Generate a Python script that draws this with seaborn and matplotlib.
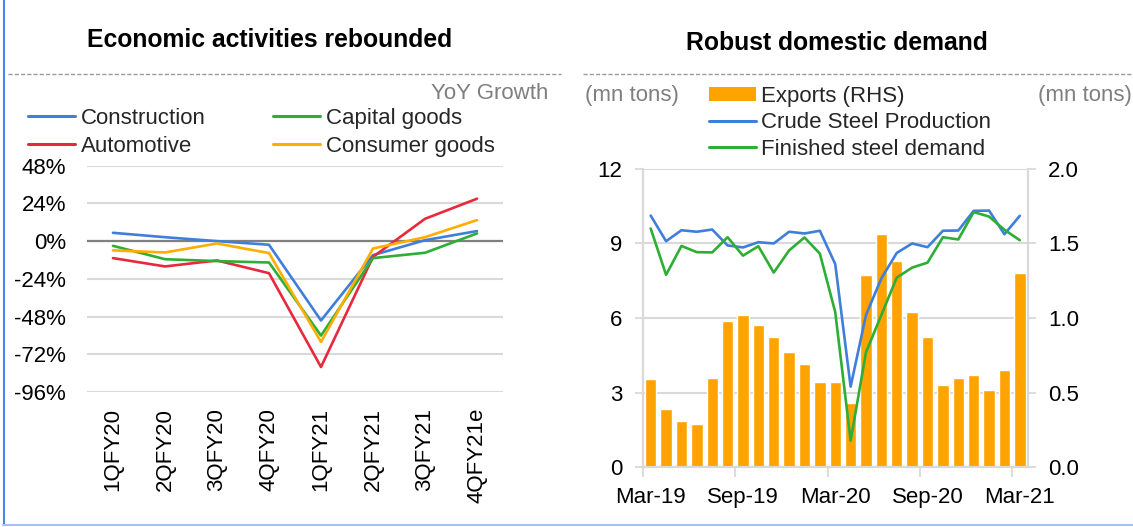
import numpy as np
import pandas as pd
import matplotlib
matplotlib.use("Agg")
import matplotlib.pyplot as plt
from matplotlib.lines import Line2D
from matplotlib.patches import Patch
import seaborn as sns

# ---------------- data ----------------
quarters = ["1QFY20", "2QFY20", "3QFY20", "4QFY20", "1QFY21", "2QFY21", "3QFY21", "4QFY21e"]
construction = [5.3, 2.5, 0.0, -2.3, -50.5, -8.9, 0.6, 6.4]
capital_goods = [-3.0, -11.5, -12.7, -13.6, -60.1, -10.8, -7.4, 4.9]
automotive = [-10.8, -16.1, -12.3, -20.4, -80.1, -10.0, 14.2, 27.0]
consumer_goods = [-5.9, -7.2, -1.5, -7.6, -64.1, -4.7, 2.5, 13.4]
yticks_left = [48, 24, 0, -24, -48, -72, -96]

months = ["Mar-19", "Apr-19", "May-19", "Jun-19", "Jul-19", "Aug-19", "Sep-19", "Oct-19",
          "Nov-19", "Dec-19", "Jan-20", "Feb-20", "Mar-20", "Apr-20", "May-20", "Jun-20",
          "Jul-20", "Aug-20", "Sep-20", "Oct-20", "Nov-20", "Dec-20", "Jan-21", "Feb-21", "Mar-21"]
exports_rhs = [0.59, 0.39, 0.31, 0.29, 0.60, 0.98, 1.02, 0.95, 0.87, 0.77, 0.69, 0.57, 0.57,
               0.43, 1.29, 1.56, 1.38, 1.04, 0.87, 0.55, 0.60, 0.62, 0.52, 0.65, 1.30]
crude_steel = [10.11, 9.08, 9.52, 9.46, 9.55, 8.91, 8.83, 9.04, 8.99, 9.46, 9.39, 9.50, 8.16,
               3.24, 6.12, 7.59, 8.61, 8.99, 8.84, 9.50, 9.51, 10.30, 10.31, 9.36, 10.10]
finished_steel = [9.59, 7.73, 8.89, 8.64, 8.63, 9.24, 8.50, 8.88, 7.82, 8.71, 9.23, 8.58, 6.23,
                  1.07, 4.62, 6.12, 7.62, 8.02, 8.22, 9.24, 9.15, 10.25, 10.07, 9.54, 9.12]
month_labels = ["Mar-19", "Sep-19", "Mar-20", "Sep-20", "Mar-21"]

# ---------------- style ----------------
sns.set_theme(style="white")
plt.rcParams["font.family"] = ["Liberation Sans", "DejaVu Sans"]
FS = 16
BLUE = "#3F7FDA"
GREEN = "#2EAE34"
RED = "#E8283C"
ORANGE_L = "#FFAE00"
ORANGE_B = "#FFA300"
GRID = "#D9D9D9"
GREYTXT = "#7F7F7F"

W, H = 1133, 527
fig = plt.figure(figsize=(W / 100, H / 100), dpi=100)
fig.patch.set_facecolor("white")

def fx(px):
    return px / W

def fy(py):
    return 1 - py / H

# ---------------- left chart ----------------
axL = fig.add_axes([fx(87), fy(392), fx(503) - fx(87), fy(165.7) - fy(392)])
series_names = ["Construction", "Automotive", "Capital goods", "Consumer goods"]
series_vals = [construction, automotive, capital_goods, consumer_goods]
rows = []
for name, vals in zip(series_names, series_vals):
    for i, v in enumerate(vals):
        rows.append({"idx": i, "value": v, "series": name})
dfL = pd.DataFrame(rows)
pal = {"Construction": BLUE, "Automotive": RED, "Capital goods": GREEN, "Consumer goods": ORANGE_L}

for y in yticks_left:
    axL.axhline(y, color=GRID, lw=1.5, zorder=0)
axL.axhline(0, color="#808080", lw=1.6, zorder=1)

sns.lineplot(data=dfL, x="idx", y="value", hue="series", hue_order=series_names,
             palette=pal, linewidth=1.9, ax=axL, sort=False, legend=True, zorder=3)
axL.set_xlim(-0.5, 7.5)
axL.set_ylim(-96, 48)
axL.set_yticks(yticks_left)
axL.set_yticklabels([f"{v}%" for v in yticks_left])
axL.set_xticks(range(len(quarters)))
axL.set_xticklabels(quarters, rotation=90, va="top", ha="center")
axL.tick_params(axis="y", length=0, pad=15, labelsize=FS, labelcolor="black")
axL.tick_params(axis="x", length=0, pad=11.5, labelsize=FS, labelcolor="black")
axL.set_xlabel("")
axL.set_ylabel("")
for s in axL.spines.values():
    s.set_visible(False)
sns.move_legend(axL, "upper left", bbox_to_anchor=(fx(28), fy(108)),
                bbox_transform=fig.transFigure, ncol=2, frameon=False, title=None,
                fontsize=FS, handlelength=2.1, handletextpad=0.3, columnspacing=3.0,
                labelspacing=0.3, borderpad=0, borderaxespad=0)
for line in axL.get_legend().get_lines():
    line.set_linewidth(2.2)

# ---------------- right chart ----------------
axR = fig.add_axes([fx(643), fy(467.3), fx(1027.5) - fx(643), fy(168.5) - fy(467.3)])
axR2 = axR.twinx()
dfR = pd.DataFrame({"idx": np.arange(len(months)), "month": months,
                    "exports": exports_rhs, "crude": crude_steel, "finished": finished_steel})

sns.barplot(data=dfR, x="idx", y="exports", color=ORANGE_B, width=0.74,
            saturation=1, ax=axR2, zorder=2)
sns.lineplot(data=dfR, x="idx", y="crude", color=BLUE, linewidth=1.9, ax=axR, sort=False)
sns.lineplot(data=dfR, x="idx", y="finished", color=GREEN, linewidth=1.9, ax=axR, sort=False)

axR.set_zorder(axR2.get_zorder() + 1)
axR.patch.set_visible(False)

axR.set_ylim(0, 12)
axR2.set_ylim(0, 2.0)
axR.set_yticks([0, 3, 6, 9, 12])
axR2.set_yticks([0, 0.5, 1.0, 1.5, 2.0])
axR2.set_yticklabels(["0.0", "0.5", "1.0", "1.5", "2.0"])
axR2.set_axisbelow(True)
axR2.yaxis.grid(True, color=GRID, lw=1.5)
axR2.xaxis.grid(False)
axR.grid(False)

axR.set_xlim(-0.5, len(months) - 0.5)
axR.set_xticks([0, 6, 12, 18, 24])
axR.set_xticklabels(month_labels)
axR.set_xticks([-0.5, 5.5, 11.5, 17.5, 23.5], minor=True)
axR.tick_params(axis="x", which="major", length=0, pad=14, labelsize=FS, labelcolor="black")
axR.tick_params(axis="x", which="minor", length=7, width=1.3, color=GRID, bottom=True)
axR.tick_params(axis="y", length=6, width=1.3, color=GRID, pad=9, labelsize=FS, labelcolor="black", left=True)
axR2.tick_params(axis="y", length=6, width=1.3, color=GRID, pad=9, labelsize=FS, labelcolor="black", right=True)
for a in (axR, axR2):
    a.set_xlabel("")
    a.set_ylabel("")
    a.spines["top"].set_visible(False)
    for side in ("left", "right", "bottom"):
        a.spines[side].set_color(GRID)
        a.spines[side].set_linewidth(1.5)

handles = [Patch(facecolor=ORANGE_B, edgecolor="none", label="Exports (RHS)"),
           Line2D([], [], color=BLUE, lw=2.2, label="Crude Steel Production"),
           Line2D([], [], color=GREEN, lw=2.2, label="Finished steel demand")]
fig.legend(handles=handles, loc="upper left", bbox_to_anchor=(fx(709), fy(86)),
           frameon=False, fontsize=FS, handlelength=2.1, handleheight=0.55,
           handletextpad=0.22, labelspacing=0.24, borderpad=0, borderaxespad=0)

# ---------------- texts & decorations ----------------
fig.text(fx(269.5), fy(47), "Economic activities rebounded", ha="center", va="baseline",
         fontsize=17.8, fontweight="bold", color="black")
fig.text(fx(836.7), fy(50), "Robust domestic demand", ha="center", va="baseline",
         fontsize=17.8, fontweight="bold", color="black")
fig.text(fx(548), fy(99), "YoY Growth", ha="right", va="baseline", fontsize=FS, color=GREYTXT)
fig.text(fx(585), fy(101), "(mn tons)", ha="left", va="baseline", fontsize=FS, color=GREYTXT)
fig.text(fx(1038), fy(101), "(mn tons)", ha="left", va="baseline", fontsize=FS, color=GREYTXT)

fig.add_artist(Line2D([fx(8), fx(561)], [fy(74), fy(74)], color="#9A9A9A", lw=1, ls=(0, (3, 1.5))))
fig.add_artist(Line2D([fx(583), fx(1133)], [fy(74), fy(74)], color="#9A9A9A", lw=1, ls=(0, (3, 1.5))))
fig.add_artist(Line2D([fx(3.5), fx(3.5)], [fy(0), fy(525)], color="#4A86E8", lw=1.5))
fig.add_artist(Line2D([fx(3), fx(1133)], [fy(525), fy(525)], color="#A4C2F4", lw=1.5))

fig.savefig("out.png", dpi=100, facecolor="white")
